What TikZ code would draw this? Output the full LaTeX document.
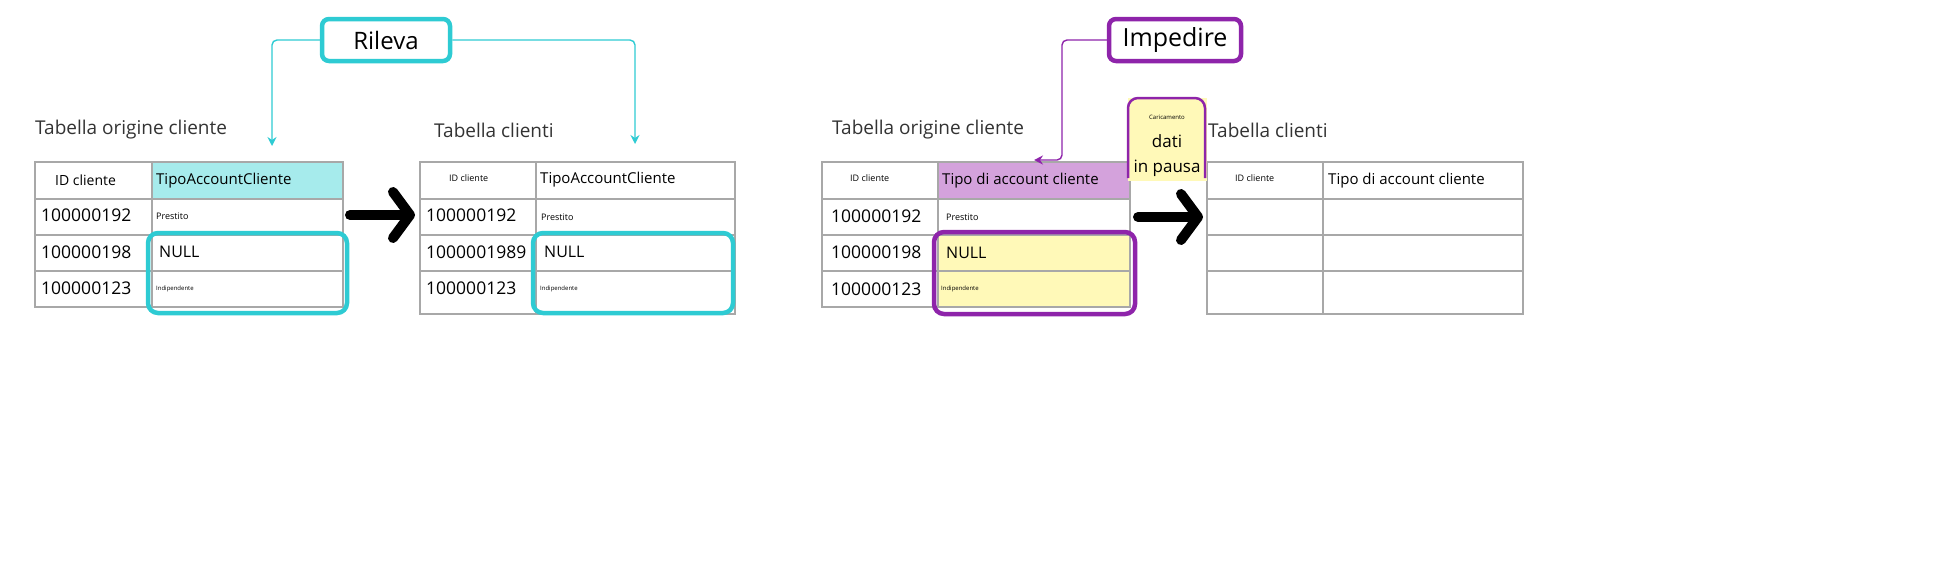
\documentclass[tikz,border=0pt]{standalone}
\usepackage{fontspec}
\setmainfont{Open Sans}
\usetikzlibrary{arrows.meta}
\definecolor{tealc}{HTML}{2ECBD3}
\definecolor{tealf}{HTML}{A6EBEC}
\definecolor{purc}{HTML}{8E24AA}
\definecolor{purf}{HTML}{D4A2DC}
\definecolor{yelf}{HTML}{FFF9B8}
\definecolor{gridc}{HTML}{A8A8A8}
\definecolor{txtc}{HTML}{333333}
\newcommand{\fs}[1]{\fontsize{#1}{#1}\selectfont}
\tikzset{
  grid/.style={draw=gridc,line width=1.6pt},
  cell/.style={anchor=west,inner sep=0pt,text=black},
  title/.style={anchor=west,inner sep=0pt,text=txtc,font=\fs{19}},
  tagbox/.style={draw=#1,line width=4.5pt,rounded corners=7pt,fill=white,minimum height=42pt,inner sep=0pt},
  hilite/.style={draw=#1,line width=4.5pt,rounded corners=10pt},
  link/.style={draw=#1,line width=1.4pt,rounded corners=5pt,-{Stealth[length=9pt,width=9pt,inset=3pt]}},
  bigarrow/.style={line width=10pt,line cap=round,line join=round}
}
\begin{document}
\begin{tikzpicture}[x=1pt,y=-1pt]
\useasboundingbox (0,0) rectangle (1948,584);

%% left half
\node[title] (t1) at (35,130) {Tabella origine cliente};
\node[title] (t2) at (434,130) {Tabella clienti};

\fill[tealf] (152,162) rectangle (343,199);
\draw[grid] (35,162) rectangle (343,307);
\foreach \y in {199,235,271} \draw[grid] (35,\y) -- (343,\y);
\draw[grid] (152,162) -- (152,307);
\node[cell,font=\fs{14}] at (55,180) {ID cliente};
\node[cell,font=\fs{15}] at (156,181) {TipoAccountCliente};
\node[cell,font=\fs{17.5}] at (41,215) {100000192};
\node[cell,font=\fs{17.5}] at (41,252) {100000198};
\node[cell,font=\fs{17.5}] at (41,288) {100000123};
\node[cell,font=\fs{9}] at (156,216) {Prestito};
\node[cell,font=\fs{16}] at (159,252) {NULL};
\node[cell,font=\fs{6}] at (156,289) {Indipendente};

\draw[grid] (420,162) rectangle (735,314);
\foreach \y in {199,235,271} \draw[grid] (420,\y) -- (735,\y);
\draw[grid] (536,162) -- (536,314);
\node[cell,font=\fs{9}] at (449,178) {ID cliente};
\node[cell,font=\fs{15}] at (540,180) {TipoAccountCliente};
\node[cell,font=\fs{17.5}] at (426,215) {100000192};
\node[cell,font=\fs{17.5}] at (426,252) {1000001989};
\node[cell,font=\fs{17.5}] at (426,288) {100000123};
\node[cell,font=\fs{9}] at (541,217) {Prestito};
\node[cell,font=\fs{16}] at (544,252) {NULL};
\node[cell,font=\fs{6}] at (540,289) {Indipendente};

\draw[hilite=tealc] (148,233) rectangle (347,313);
\draw[hilite=tealc] (533,233) rectangle (733,313);

\draw[bigarrow] (350,215) -- (408,215);
\draw[bigarrow] (393,192) -- (410,215) -- (393,238);

\node[tagbox=tealc,minimum width=128pt,font=\fs{24}] (rileva) at (386,40) {Rileva};
\coordinate (r1) at (272,146);
\coordinate (r2) at (635,144);
\draw[link=tealc] (rileva.west) -| (r1);
\draw[link=tealc] (rileva.east) -| (r2);

%% right half
\node[title] (t3) at (832,130) {Tabella origine cliente};
\node[title] (t4) at (1208,130) {Tabella clienti};

\fill[purf] (938,162) rectangle (1130,199);
\fill[yelf] (938,235) rectangle (1130,307);
\draw[grid] (822,162) rectangle (1130,307);
\foreach \y in {199,235,271} \draw[grid] (822,\y) -- (1130,\y);
\draw[grid] (938,162) -- (938,307);
\node[cell,font=\fs{9}] at (850,178) {ID cliente};
\node[cell,font=\fs{15}] at (942,181) {Tipo di account cliente};
\node[cell,font=\fs{17.5}] at (831,216) {100000192};
\node[cell,font=\fs{17.5}] at (831,252) {100000198};
\node[cell,font=\fs{17.5}] at (831,289) {100000123};
\node[cell,font=\fs{9}] at (946,217) {Prestito};
\node[cell,font=\fs{16}] at (946,253) {NULL};
\node[cell,font=\fs{6}] at (941,289) {Indipendente};
\draw[hilite=purc] (934,232) rectangle (1135,314);

\draw[grid] (1207,162) rectangle (1523,314);
\foreach \y in {199,235,271} \draw[grid] (1207,\y) -- (1523,\y);
\draw[grid] (1323,162) -- (1323,314);
\node[cell,font=\fs{9}] at (1235,178) {ID cliente};
\node[cell,font=\fs{15}] at (1328,181) {Tipo di account cliente};

\draw[bigarrow] (1138,217) -- (1196,217);
\draw[bigarrow] (1181,194) -- (1198,217) -- (1181,240);

\fill[yelf] (1128,98) rectangle (1207,181);
\draw[purc,line width=2.5pt,rounded corners=10pt] (1128,178) -- (1128,98) -- (1205,98) -- (1205,178);
\node[font=\fs{6},inner sep=0pt] (note1) at (1167,117) {Caricamento};
\node[font=\fs{17},inner sep=0pt] (note2) at (1167,141) {dati};
\node[font=\fs{17},inner sep=0pt] (note3) at (1167,168) {in pausa};

\node[tagbox=purc,minimum width=132pt,font=\fs{25}] (impedire) at (1175,40) {Impedire};
\coordinate (p1) at (1062,160);
\coordinate (p2) at (1034,160);
\draw[link=purc] (impedire.west) -| (p1) -- (p2);
\end{tikzpicture}
\end{document}
